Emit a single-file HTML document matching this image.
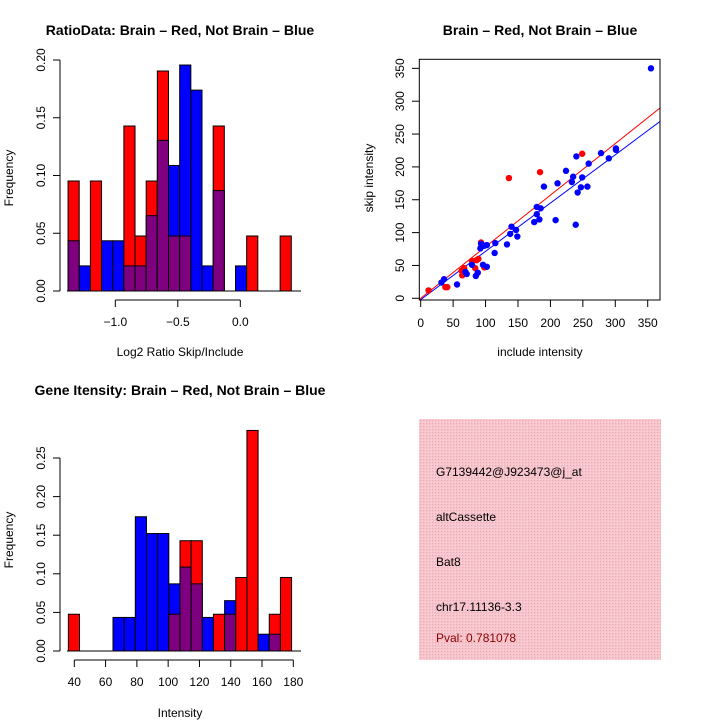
<!DOCTYPE html>
<html><head><meta charset="utf-8"><style>
html,body{margin:0;padding:0;background:#fff}
svg{display:block;font-family:"Liberation Sans",sans-serif}
</style></head><body>
<svg id="c" width="720" height="720" viewBox="0 0 720 720">
<defs>
<pattern id="hatch" width="3" height="3" patternUnits="userSpaceOnUse"><rect width="3" height="3" fill="#f7c4cc"/><rect width="1" height="1" fill="#e9a9b6"/><rect x="2" y="2" width="1" height="1" fill="#fbd7dc"/></pattern>
</defs>
<text x="180" y="35" text-anchor="middle" font-size="14" font-weight="bold">RatioData: Brain – Red, Not Brain – Blue</text>
<text x="540" y="35" text-anchor="middle" font-size="14" font-weight="bold">Brain – Red, Not Brain – Blue</text>
<text x="180" y="395" text-anchor="middle" font-size="14" font-weight="bold">Gene Itensity: Brain – Red, Not Brain – Blue</text>
<text x="180" y="356" text-anchor="middle" font-size="12">Log2 Ratio Skip/Include</text>
<text x="180" y="717" text-anchor="middle" font-size="12">Intensity</text>
<text transform="translate(13,178) rotate(-90)" text-anchor="middle" font-size="12">Frequency</text>
<text transform="translate(13,540) rotate(-90)" text-anchor="middle" font-size="12">Frequency</text>
<text x="540" y="356" text-anchor="middle" font-size="12">include intensity</text>
<text transform="translate(373,178) rotate(-90)" text-anchor="middle" font-size="12">skip intensity</text>
<g>
<rect x="419" y="419" width="242" height="241" fill="url(#hatch)"/>
<text x="436" y="476" font-size="12">G7139442@J923473@j_at</text>
<text x="436" y="521" font-size="12">altCassette</text>
<text x="436" y="566" font-size="12">Bat8</text>
<text x="436" y="611" font-size="12">chr17.11136-3.3</text>
<text x="436" y="642" font-size="12" fill="#8b0000">Pval: 0.781078</text>
</g>
</svg>
<script>
// Ratio histogram (frequencies)
const ratioRed  = [2/21,0,2/21,0,0,3/21,1/21,2/21,4/21,1/21,1/21,0,0,3/21,0,0,1/21,0,0,1/21];
const ratioBlue = [2/46,1/46,0,2/46,2/46,1/46,1/46,3/46,6/46,5/46,9/46,8/46,1/46,4/46,0,1/46,0,0,0,0];
const ratioXTicks = [-1.0,-0.5,0.0];
const ratioXLabels = ["−1.0","−0.5","0.0"];
const ratioYTicks = [0,0.05,0.10,0.15,0.20];
const ratioYLabels = ["0.00","0.05","0.10","0.15","0.20"];
const ratioBinStart = -1.378, ratioBinWidth = 0.0893;
// Gene intensity histogram
const geneRed  = [1/21,0,0,0,0,0,0,0,0,1/21,3/21,3/21,0,1/21,1/21,2/21,6/21,0,1/21,2/21];
const geneBlue = [0,0,0,0,2/46,2/46,8/46,7/46,7/46,4/46,5/46,4/46,2/46,0,3/46,0,0,1/46,1/46,0];
const geneXTicks = [40,60,80,100,120,140,160,180];
const geneYTicks = [0,0.05,0.10,0.15,0.20,0.25];
const geneYLabels = ["0.00","0.05","0.10","0.15","0.20","0.25"];
const geneBinStart = 36.2, geneBinWidth = 7.135;
// Scatter
const blueX = [355,301,301,290,278,259,240,249,235,233,257,247,242,239,224,211,208,190,179,185,179,183,175,140,138,147,149,133,115,114,102,93,92,98,96,102,79,71,69,85,88,56,32,36];
const blueY = [350,228,226,213,221,205,216,184,185,177,170,169,161,112,194,175,119,170,139,137,128,120,116,109,98,104,94,82,84,69,81,83,76,80,51,48,51,37,40,34,39,21,24,29];
const redX = [12,38,41,64,63,67,79,86,89,84,98,93,136,184,249];
const redY = [12,17,17,35,42,46,57,58,60,46,47,85,183,192,220];
const redFit = [0,0.785];
const blueFit = [-2,0.735];
const scatTicks = [0,50,100,150,200,250,300,350];

const svg = document.getElementById('c');
const NS = 'http://www.w3.org/2000/svg';
function mk(tag, attrs, parent){const e=document.createElementNS(NS,tag);for(const k in attrs)e.setAttribute(k,attrs[k]);(parent||svg).appendChild(e);return e;}

function hist(red, blue, binStart, binW, xs, ys, name){
  const g = mk('g',{});
  
  
  for(let i=0;i<red.length;i++){
    const x0=xs(binStart+i*binW), x1=xs(binStart+(i+1)*binW);
    const r=red[i], b=blue[i];
    const mx=Math.max(r,b), mn=Math.min(r,b);
    if(mx>0){
      const e=mk('rect',{x:x0,y:ys(mx),width:x1-x0,height:ys(0)-ys(mx),fill:r>=b?'#ff0000':'#0000ff',stroke:'#000','stroke-width':1},g);
      
      
    }
    if(mn>0){
      const e=mk('rect',{x:x0,y:ys(mn),width:x1-x0,height:ys(0)-ys(mn),fill:'#7f007f',stroke:'#000','stroke-width':1},g);
      
      
    }
  }
}
function yAxis(x, ys, ticks, labels, name){
  const g=mk('g',{});
  
  
  mk('line',{x1:x,x2:x,y1:ys(ticks[0]),y2:ys(ticks[ticks.length-1]),stroke:'#000'},g);
  ticks.forEach((t,i)=>{
    mk('line',{x1:x-7,x2:x,y1:ys(t),y2:ys(t),stroke:'#000'},g);
    const tx=mk('text',{transform:`translate(${x-15},${ys(t)}) rotate(-90)`,'text-anchor':'middle','font-size':12},g);
    tx.textContent=labels[i];
  });
}
function xAxis(y, xs, ticks, labels, name){
  const g=mk('g',{});
  
  
  mk('line',{x1:xs(ticks[0]),x2:xs(ticks[ticks.length-1]),y1:y,y2:y,stroke:'#000'},g);
  ticks.forEach((t,i)=>{
    mk('line',{x1:xs(t),x2:xs(t),y1:y,y2:y+7,stroke:'#000'},g);
    const tx=mk('text',{x:xs(t),y:y+26,'text-anchor':'middle','font-size':12},g);
    tx.textContent=labels[i];
  });
}
// Ratio hist
const rxs=v=>240.3+v*125, rys=v=>291-v*1155;
hist(ratioRed, ratioBlue, ratioBinStart, ratioBinWidth, rxs, rys, 'ratio');
mk('line',{x1:67,x2:301,y1:291,y2:291,stroke:'#000'});
yAxis(60, rys, ratioYTicks, ratioYLabels, 'ratio-y-axis');
xAxis(300, rxs, ratioXTicks, ratioXLabels, 'ratio-x-axis');
// Gene hist
const gxs=v=>74.3+(v-40)*1.5643, gys=v=>651-v*772;
hist(geneRed, geneBlue, geneBinStart, geneBinWidth, gxs, gys, 'gene');
mk('line',{x1:67,x2:301,y1:651,y2:651,stroke:'#000'});
yAxis(60, gys, geneYTicks, geneYLabels, 'gene-y-axis');
xAxis(660, gxs, geneXTicks, geneXTicks.map(String), 'gene-x-axis');
// Scatter
const sxs=v=>420.7+v*0.6486, sys=v=>298.3-v*0.657;
const sg=mk('g',{});


const clip=mk('clipPath',{id:'sc'});mk('rect',{x:419,y:59,width:241,height:241},clip);
const lg=mk('g',{'clip-path':'url(#sc)'},sg);
[[redFit,'#ff0000','red-fit-line'],[blueFit,'#0000ff','blue-fit-line']].forEach(([f,c,n])=>{
  const x0=-3,x1=375;
  const l=mk('line',{x1:sxs(x0),y1:sys(f[0]+f[1]*x0),x2:sxs(x1),y2:sys(f[0]+f[1]*x1),stroke:c,'stroke-width':1},lg);
  
  
});
redX.forEach((v,i)=>{
  const p=mk('circle',{cx:sxs(v),cy:sys(redY[i]),r:3.2,fill:'#ff0000'},sg);
  
  
});
blueX.forEach((v,i)=>{
  const p=mk('circle',{cx:sxs(v),cy:sys(blueY[i]),r:3.2,fill:'#0000ff'},sg);
  
  
});
mk('rect',{x:419.3,y:59.3,width:240.7,height:240.7,fill:'none',stroke:'#000'},sg);
const sxg=mk('g',{});


scatTicks.forEach(t=>{
  mk('line',{x1:sxs(t),x2:sxs(t),y1:300,y2:307,stroke:'#000'},sxg);
  const tx=mk('text',{x:sxs(t),y:327,'text-anchor':'middle','font-size':12},sxg);tx.textContent=t;
});
const syg=mk('g',{});


scatTicks.forEach(t=>{
  mk('line',{x1:412,x2:419.3,y1:sys(t),y2:sys(t),stroke:'#000'},syg);
  const tx=mk('text',{transform:`translate(404,${sys(t)}) rotate(-90)`,'text-anchor':'middle','font-size':12},syg);tx.textContent=t;
});
</script>
</body></html>
